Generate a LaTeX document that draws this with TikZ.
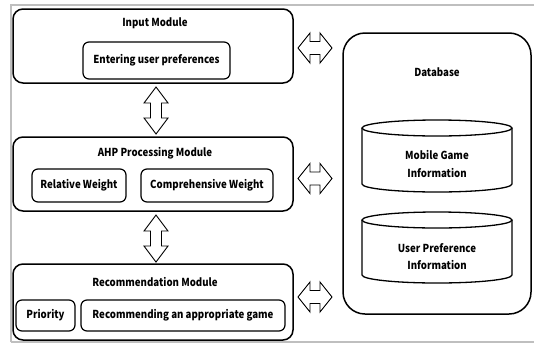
\documentclass[tikz,border=0pt]{standalone}
\usepackage{fontspec}
\setmainfont{Noto Sans CJK KR}[FakeStretch=0.88]
\begin{document}
\begin{tikzpicture}[x=1pt,y=-1pt,
  modbox/.style={draw, line width=1.5pt, rounded corners=10pt},
  subbox/.style={draw, line width=1.2pt, rounded corners=6pt},
  lbl/.style={font=\fontsize{11}{17.5}\selectfont\bfseries, inner sep=0pt, align=center},
  blockarrow/.style={draw, line width=0.9pt, fill=white, line join=miter},
  frameline/.style={draw=black!25, line width=1.2pt}
]
\useasboundingbox (0,0) rectangle (534,343);
% outer frame
\draw[frameline] (11,342) -- (11,5) -- (534,5);
\draw[frameline] (11,342) -- (534,342);

% Input module
\draw[modbox] (13,9) rectangle (293,83);
\node[lbl] (inT) at (155,23) {Input Module};
\draw[subbox] (83,42) rectangle (230,79);
\node[lbl] (inS) at (156.5,60.5) {Entering user preferences};

% AHP module
\draw[modbox] (13,137) rectangle (293,211);
\node[lbl] (ahpT) at (155,153) {AHP Processing Module};
\draw[subbox] (32,169) rectangle (126,202);
\node[lbl] (rel) at (79,185.5) {Relative Weight};
\draw[subbox] (141,169) rectangle (273,202);
\node[lbl] (comp) at (207,185.5) {Comprehensive Weight};

% Recommendation module
\draw[modbox] (13,264) rectangle (293,340);
\node[lbl] (recT) at (155,282) {Recommendation Module};
\draw[subbox] (16,300) rectangle (75,331);
\node[lbl] (pri) at (45.5,315.5) {Priority};
\draw[subbox] (81,300) rectangle (285,331);
\node[lbl] (recg) at (183,315.5) {Recommending an appropriate game};

% Database
\draw[modbox, rounded corners=22pt] (343,33) rectangle (531,314);
\node[lbl] (dbT) at (437,72) {Database};

% cylinder 1
\draw[line width=1.3pt] (362,128) -- (362,184) arc[start angle=180, end angle=0, x radius=75, y radius=8] -- (512,128);
\draw[line width=1.3pt] (437,128) ellipse[x radius=75, y radius=8];
\node[lbl] (mg) at (437,164) {Mobile Game\\Information};
% cylinder 2
\draw[line width=1.3pt] (362,220) -- (362,275) arc[start angle=180, end angle=0, x radius=75, y radius=8] -- (512,220);
\draw[line width=1.3pt] (437,220) ellipse[x radius=75, y radius=8];
\node[lbl] (up) at (437,256.5) {User Preference\\Information};

% vertical block arrows
\foreach \cy in {110.5,238.5}{
  \draw[blockarrow] (156,\cy-23.5) -- (168,\cy-7.5) -- (161.5,\cy-7.5) -- (161.5,\cy+7.5) -- (168,\cy+7.5) -- (156,\cy+23.5) -- (144,\cy+7.5) -- (150.5,\cy+7.5) -- (150.5,\cy-7.5) -- (144,\cy-7.5) -- cycle;
}
% horizontal block arrows
\foreach \cy in {48,178.5,297}{
  \draw[blockarrow] (298,\cy) -- (310,\cy-15) -- (310,\cy-6.5) -- (320,\cy-6.5) -- (320,\cy-15) -- (332,\cy) -- (320,\cy+15) -- (320,\cy+6.5) -- (310,\cy+6.5) -- (310,\cy+15) -- cycle;
}
\end{tikzpicture}
\end{document}
